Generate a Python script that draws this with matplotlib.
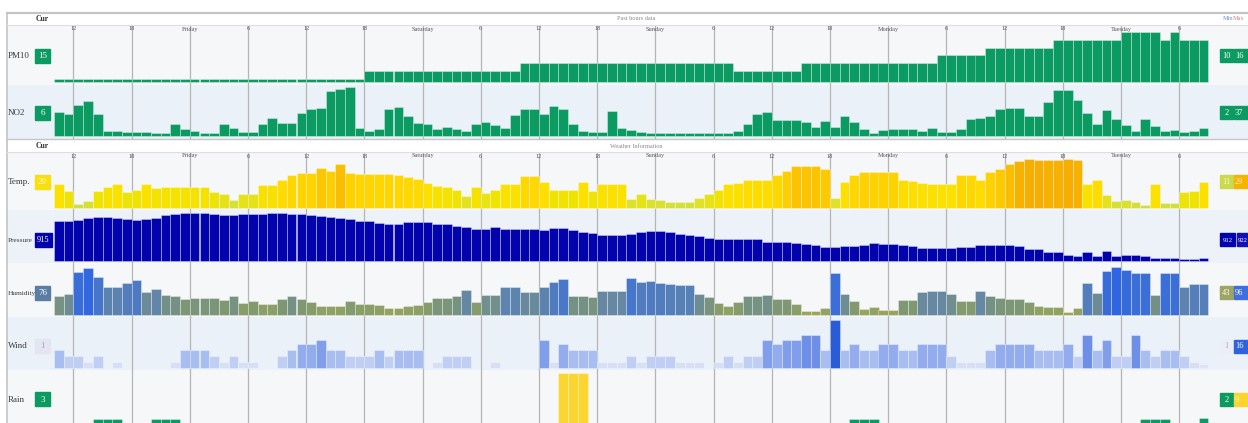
import numpy as np
import matplotlib
matplotlib.use("Agg")
import matplotlib.pyplot as plt
from matplotlib.colors import LinearSegmentedColormap
from matplotlib.patches import Rectangle
from matplotlib.transforms import blended_transform_factory

plt.rcParams['font.family'] = ['Liberation Serif', 'DejaVu Serif']

# hourly values, Thursday 10:00 -> Tuesday 08:00 (119 bars)
pm10 = [10, 10, 10, 10, 10, 10, 10, 10, 10, 10, 10, 10, 10, 10, 10, 10,
        10, 10, 10, 10, 10, 10, 10, 10, 10, 10, 10, 10, 10, 10, 10, 10,
        11, 11, 11, 11, 11, 11, 11, 11, 11, 11, 11, 11, 11, 11, 11, 11,
        12, 12, 12, 12, 12, 12, 12, 12, 12, 12, 12, 12, 12, 12, 12, 12,
        12, 12, 12, 12, 12, 12, 11, 11, 11, 11, 11, 11, 11, 12, 12, 12,
        12, 12, 12, 12, 12, 12, 12, 12, 12, 12, 12, 13, 13, 13, 13, 13,
        14, 14, 14, 14, 14, 14, 14, 15, 15, 15, 15, 15, 15, 15, 16, 16,
        16, 16, 15, 16, 15, 15, 15]

no2 = [18, 16.5, 23, 26, 16, 3.7, 3.7, 3.2, 3, 3, 2.5, 2.5, 9, 5, 3.7, 2.5,
       2, 8.6, 5.7, 3, 3, 8.6, 13, 9.4, 9.4, 17.3, 20, 21, 33, 34.6, 36.5, 6,
       4, 5, 20, 21.5, 15, 9.5, 8.6, 5.4, 6.7, 5, 3.7, 9, 10, 8, 5.7, 15.5,
       20, 20, 16.5, 22, 20, 8.6, 3.7, 3, 3, 18.5, 5.7, 4.4, 3.2, 2, 2, 2,
       2, 2, 2, 2, 2, 2, 3.7, 9, 16, 17.8, 11.6, 11.6, 12, 10, 6.7, 11,
       6.5, 14.8, 10.6, 5.4, 2.5, 4.4, 5.4, 5.4, 5.4, 3.7, 6.2, 3.2, 3.2, 5, 12.3, 13.6,
       14.8, 19.8, 20.5, 20.5, 14.8, 14.8, 25.4, 33.8, 33.8, 27, 17.3, 9, 19, 12.3, 8, 3.7,
       12.3, 7.4, 3.7, 4.4, 3.2, 3.7, 6.2]

temp = [19.2, 16.6, 11.5, 12.7, 16.7, 18.3, 19.3, 16.3, 17, 19.2, 17.9, 18.3, 18.3, 18.3, 18.3, 18.3,
        16.3, 15.4, 13, 15.3, 15.3, 18.9, 18.9, 21.1, 22.8, 23.5, 23.5, 25.8, 24.5, 27, 23.7, 23.4,
        23.4, 23.2, 23.2, 23, 22.2, 21.5, 19.8, 18.7, 18.3, 17.2, 14.6, 18.3, 15.7, 17.2, 19.3, 19.3,
        22.4, 22.4, 20, 17, 17, 17, 20, 16.7, 19.2, 19.2, 19.2, 13.7, 15.3, 13.7, 13.3, 12.4,
        12.4, 12.4, 14.1, 15.4, 17.2, 19.3, 19.6, 21.1, 21.1, 21.1, 22.8, 24.5, 26.3, 26.3, 26.3, 25.4,
        14.1, 20, 22.8, 23.9, 23.9, 23.9, 23.9, 21.1, 20.6, 19.6, 19.3, 19.3, 19.3, 22.8, 22.8, 21.1,
        23.9, 25.4, 27.1, 28.4, 29, 28.8, 28.6, 28.6, 29, 28.6, 19.3, 21.1, 15, 12.7, 13.3, 12.2,
        11.1, 19.3, 12, 12, 16.3, 16.7, 20]

pressure = [920.3, 920.4, 920.6, 921.0, 921.2, 921.2, 921.0, 920.7, 920.6, 920.7, 921.0, 921.5,
            921.9, 922.1, 922.1, 922.0, 921.9, 921.7, 921.7, 921.9, 921.9, 921.9, 922.0, 922.0,
            921.9, 921.9, 921.7, 921.3, 921.2, 921.0, 920.7, 920.3, 920.3, 919.9, 919.7, 919.7,
            920.1, 920.1, 920.1, 919.7, 919.6, 919.1, 918.9, 918.6, 918.6, 918.9, 918.6, 918.6,
            918.6, 918.6, 918.3, 918.8, 918.8, 918.3, 918.0, 917.7, 917.2, 917.2, 917.2, 917.5,
            917.9, 918.1, 918.1, 917.9, 917.5, 917.3, 917.0, 916.6, 916.3, 916.3, 916.3, 916.3,
            916.3, 915.7, 915.7, 915.7, 915.5, 915.2, 915.0, 914.6, 914.7, 914.8, 914.8, 915.0,
            915.5, 915.4, 915.2, 915.0, 914.8, 914.5, 914.5, 914.5, 914.5, 914.6, 914.6, 915.0,
            915.0, 915.0, 915.1, 914.8, 914.1, 914.1, 913.6, 913.6, 913.0, 912.7, 913.6, 912.6,
            913.7, 912.6, 912.8, 912.8, 912.6, 912.3, 912.3, 912.3, 912.0, 912.1, 912.3]

humidity = [62.3, 65.4, 91, 95, 85, 73.2, 73.2, 77.2, 81, 66.6, 70.5, 63.4, 62.7, 59.5, 60.7, 60.7,
            60.7, 58.3, 62.3, 54.4, 56.8, 52.9, 52.9, 59.5, 62.7, 58.7, 55.6, 50.9, 50.9, 50.5, 56.4, 53.6,
            53.6, 51.7, 47.8, 48.5, 50.9, 52, 55.6, 60.7, 60.7, 62.3, 69.3, 55.6, 64.2, 64.2, 72.5, 72.5,
            67.4, 67.4, 73.2, 79.1, 83, 62.7, 62.7, 61.5, 68.5, 68.5, 68.5, 84, 79, 80, 78, 76.4,
            75.2, 75.2, 65.4, 61.5, 54.4, 50.5, 55.6, 62.3, 62.3, 63.4, 58.7, 58.7, 53.6, 44.6, 44.6, 48.5,
            90, 65.4, 56.8, 46.6, 49.7, 45.8, 45.8, 58.3, 58.3, 67.4, 68.5, 68.5, 64.6, 56.4, 56.4, 68.5,
            62.7, 60.7, 59.5, 59.5, 55.6, 50.5, 49.7, 49.7, 43.8, 48.9, 77.2, 66.2, 92, 96, 93, 90,
            90, 63.4, 90, 90, 72.5, 76.4, 76.4]

wind = [6, 4, 4, 2, 4, 0, 2, 0, 0, 0, 0, 0, 2, 6, 6, 6,
        4, 2, 4, 2, 2, 0, 0, 4, 6, 8, 8, 9.5, 6, 6, 4, 4,
        4, 6, 4, 6, 6, 6, 0, 2, 4, 4, 4, 0, 0, 2, 0, 0,
        0, 0, 9.5, 2, 8, 6, 6, 6, 2, 2, 2, 4, 2, 4, 4, 4,
        2, 2, 2, 0, 2, 4, 2, 4, 4, 9.5, 8, 9.5, 9.5, 11, 11, 6,
        16, 6, 8, 6, 6, 8, 8, 6, 6, 8, 8, 8, 4, 2, 2, 2,
        6, 8, 8, 8, 8, 6, 6, 6, 8, 4, 11, 6, 9.5, 4, 4, 11,
        6, 4, 6, 6, 4, 2, 1.5]

rain = [0, 0, 0, 0, 2, 2, 2, 0, 0, 0, 2, 2, 2, 0, 0, 0,
        0, 0, 0, 0, 0, 0, 0, 0, 0, 0, 0, 0, 0, 0, 0, 0,
        0, 0, 0, 0, 0, 0, 0, 0, 0, 0, 0, 0, 0, 0, 0, 0,
        0, 0, 0, 0, 9, 9, 9, 0, 0, 0, 0, 0, 0, 0, 0, 0,
        0, 0, 0, 0, 0, 0, 0, 0, 0, 0, 0, 0, 0, 0, 0, 0,
        0, 0, 2, 2, 2, 0, 0, 0, 0, 0, 0, 0, 0, 0, 0, 0,
        0, 0, 0, 0, 0, 0, 0, 0, 0, 0, 0, 0, 0, 0, 0, 0,
        2, 2, 2, 0, 0, 0, 2.2]

hour_labels = ['12', '18', 'Friday', '6', '12', '18', 'Saturday', '6', '12', '18',
               'Sunday', '6', '12', '18', 'Monday', '6', '12', '18', 'Tuesday', '6']
row_names = ['PM10', 'NO2', 'Temp.', 'Pressure', 'Humidity', 'Wind', 'Rain']
cur_vals = ['15', '6', '20', '915', '76', '1', '3']
min_vals = ['10', '2', '11', '912', '43', '1', '2']
max_vals = ['16', '37', '29', '922', '96', '16', '9']

# ---- layout (pixels) ----
W, H = 1248, 423
X0, HOUR = 54, 9.7          # left edge of first bar, px per hour
LEFT = 7


def px_rect(x0, y0, x1, y1):
    return [x0 / W, 1 - y1 / H, (x1 - x0) / W, (y1 - y0) / H]


green = '#0b9a62'
cm_temp = LinearSegmentedColormap.from_list('t', [(0, '#c9dc48'), (0.17, '#dfe22a'), (0.33, '#f0e300'),
                                                  (0.5, '#fde000'), (0.67, '#ffd600'), (0.83, '#fcc600'),
                                                  (1, '#f6ae00')])
cm_hum = LinearSegmentedColormap.from_list('h', [(0, '#9ca65a'), (0.17, '#8ea066'), (0.32, '#7c9676'),
                                                 (0.47, '#6789a0'), (0.62, '#5680b8'), (0.79, '#4676cc'),
                                                 (1, '#2f66e0')])
cm_wind = LinearSegmentedColormap.from_list('w', [(0, '#eef1f8'), (0.125, '#d6dff4'), (0.375, '#a9bef0'),
                                                  (0.62, '#7d9beb'), (1, '#2a5cd8')])


def col_temp(v):
    return [cm_temp((x - 11) / 18) for x in v]


def col_hum(v):
    return [cm_hum((x - 43) / 53) for x in v]


def col_wind(v):
    return [cm_wind(x / 16) for x in v]


def col_rain(v):
    return ['#fdd531' if x > 5 else green for x in v]


# data, row top, row bottom, baseline, value at baseline, px per unit, colours, background
rows = [
    (pm10, 25, 85, 82, 9.6, 7.8, lambda v: [green] * len(v), '#f5f7f9'),
    (no2, 85, 139, 136, 0, 1.35, lambda v: [green] * len(v), '#ebf1f8'),
    (temp, 152, 210, 207.5, 10.2, 2.56, col_temp, '#f5f7f9'),
    (pressure, 210, 263, 261, 911.6, 4.6, lambda v: ['#0303ae'] * len(v), '#ecf2f8'),
    (humidity, 263, 317, 314.5, 40.7, 0.85, col_hum, '#f5f7f9'),
    (wind, 317, 370, 368.3, 0, 3.0, col_wind, '#ebf1f8'),
    (rain, 370, 440, 432.5, 0, 6.6, col_rain, '#f5f7f9'),
]

fig = plt.figure(figsize=(W / 100, H / 100), dpi=100, facecolor='white')

row_axes = []
for vals, top, bot, base, v0, k, colfn, bg in rows:
    ax = fig.add_axes(px_rect(LEFT, top, W, bot))
    ax.set_facecolor(bg)
    ax.set_xlim((LEFT - X0) / HOUR, (W - X0) / HOUR)
    ax.set_ylim(v0 - (bot - base) / k, v0 + (base - top) / k)
    for s in ax.spines.values():
        s.set_visible(False)
    ax.set_xticks([])
    ax.set_yticks([])
    for i in range(len(hour_labels)):
        ax.axvline(2 + 6 * i, color='#b5b5b5', lw=0.9, zorder=0.5)
    v = np.array(vals, dtype=float)
    x = np.arange(len(v))
    m = v > v0
    cols = np.array(colfn(v), dtype=object)[m]
    ax.bar(x[m], v[m] - v0, width=1, bottom=v0, align='edge', color=list(cols),
           edgecolor=(1, 1, 1, 0.45), linewidth=0.5, zorder=2)
    row_axes.append(ax)

# overlay for frame and texts, in pixel coordinates
ov = fig.add_axes([0, 0, 1, 1], zorder=10)
ov.set_xlim(0, W)
ov.set_ylim(H, 0)
ov.axis('off')

ov.plot([LEFT, W], [13, 13], color='#c4c4c4', lw=1.6)
ov.plot([LEFT, LEFT], [13, H], color='#c4c4c4', lw=1.2)
ov.plot([LEFT, W], [25, 25], color='#dedede', lw=0.8)
ov.plot([LEFT, W], [139.5, 139.5], color='#c6c6c6', lw=1.0)
ov.plot([LEFT, W], [152, 152], color='#dedede', lw=0.8)

for yy, title in [(19, 'Past hours data'), (146, 'Weather Information')]:
    ov.text(42, yy, 'Cur', fontsize=5.5, fontweight='bold', color='#333333', ha='center', va='center')
    ov.text(636, yy, title, fontsize=4.5, color='#8a8a8a', ha='center', va='center')
ov.text(1233, 19, 'Min', fontsize=4.5, color='#6f8fd6', ha='right', va='center')
ov.text(1233, 19, 'Max', fontsize=4.5, color='#d98080', ha='left', va='center')

# hour labels above the gridlines
for ax_row, yy in [(row_axes[0], 29), (row_axes[2], 156)]:
    tr = blended_transform_factory(ax_row.transData, ov.transData)
    for i, lab in enumerate(hour_labels):
        ov.text(2 + 6 * i, yy, lab, transform=tr, fontsize=4.5, color='#555555',
                ha='center', va='center', zorder=3)

label_y = [56, 113, 182, 240, 293, 346.5, 399.5]
name_size = [6.5, 6.5, 6.5, 5.2, 5.2, 6.5, 6.5]
cur_col = ['#0b9a62', '#0b9a62', '#f8df10', '#0303ae', '#5a7da4', '#e3e6f1', '#0b9a62']
cur_txt = ['white', 'white', '#fff8c8', 'white', 'white', '#a0a6ba', 'white']
min_col = ['#0b9a62', '#0b9a62', '#cbd94c', '#0303ae', '#9ea463', '#eceef5', '#0b9a62']
min_txt = ['white', 'white', '#f4f6d0', 'white', 'white', '#a8adbf', 'white']
max_col = ['#0b9a62', '#0b9a62', '#f5b400', '#1010b4', '#3f6fdc', '#2f62db', '#f9d530']
max_txt = ['white', 'white', '#fff0c0', 'white', 'white', 'white', '#fff6c8']

for r, name in enumerate(row_names):
    yc = label_y[r]
    ov.text(8, yc, name, fontsize=name_size[r], color='#3a3a3a', ha='left', va='center', zorder=1)
    bw = 16.5 if r == 3 else 15
    ov.add_patch(Rectangle((35, yc - 7), bw, 14, color=cur_col[r], zorder=2))
    ov.text(35 + bw / 2, yc, cur_vals[r], fontsize=6.5 if r != 3 else 6, color=cur_txt[r],
            ha='center', va='center', zorder=3)
    w1 = 15 if r == 3 else 12.5
    fs = 4.8 if r == 3 else 6
    ov.add_patch(Rectangle((1220, yc - 6.5), w1, 13, color=min_col[r], zorder=2))
    ov.text(1220 + w1 / 2, yc, min_vals[r], fontsize=fs, color=min_txt[r], ha='center', va='center', zorder=3)
    x2 = 1221.5 + w1
    ov.add_patch(Rectangle((x2, yc - 6.5), 20, 13, color=max_col[r], zorder=2))
    ov.text(x2 + 1, yc, max_vals[r], fontsize=fs, color=max_txt[r], ha='left', va='center', zorder=3)

fig.savefig('out.png', dpi=100, facecolor='white')
